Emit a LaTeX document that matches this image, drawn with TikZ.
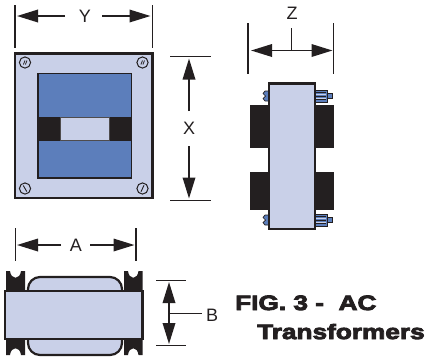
\documentclass[tikz,border=0pt]{standalone}
\usepackage{fontspec}
\setmainfont{Liberation Sans}
\newfontfamily\figfont[FakeBold=4.2,FakeStretch=1.26]{Liberation Sans Bold}
\usetikzlibrary{arrows.meta}
\definecolor{plate}{HTML}{C9D0E8}
\definecolor{core}{HTML}{5C7EBB}
\definecolor{ink}{HTML}{231F20}
\tikzset{
  extline/.style={draw=ink,line width=1.8pt},
  dimline/.style={draw=ink,line width=1.8pt,-{Triangle[length=21pt,width=12.5pt]}},
  dimlbl/.style={font=\fontsize{18}{18}\selectfont,text=ink,inner sep=0pt},
  platebox/.style={fill=plate,draw=ink,line width=2.2pt},
  screwc/.style={fill=plate,draw=ink,line width=1pt},
  blackbox/.style={fill=ink,draw=none},
  bolt/.style={fill=core,draw=ink,line width=0.7pt},
  figlbl/.style={font=\figfont\fontsize{20.8}{20.8}\selectfont,text=ink,inner sep=0pt,anchor=base west},
}
\begin{document}
\begin{tikzpicture}[x=1pt,y=-1pt]
\useasboundingbox (0,0) rectangle (427,360);
% Front view
\draw[platebox] (15,53.5) rectangle (152.5,198);
\fill[core] (38,73.5) rectangle (131.5,178);
\fill[blackbox] (38,117) rectangle (60,140.5);
\fill[blackbox] (109,117) rectangle (131.5,140.5);
\draw[fill=plate,draw=ink!80,line width=0.9pt] (60,117) rectangle (109,140.5);
\draw[draw=ink,line width=1.6pt] (38,73.5) rectangle (131.5,178);
\foreach \cx/\cy in {25/62.5,142.5/62.5}{
  \draw[screwc] (\cx,\cy) circle (5.6);
  \draw[ink,line width=0.8pt] (\cx-1.6,\cy+2) -- (\cx,\cy-2) (\cx+0.4,\cy+2) -- (\cx+2,\cy-2);
}
\foreach \cx/\cy/\ang in {25/188.5/60,142.5/188.5/115}{
  \draw[screwc] (\cx,\cy) circle (5.6);
  \draw[ink,line width=0.9pt] (\cx,\cy) ++(\ang:-3.5) -- ++(\ang:7);
}
% Y
\coordinate (yl) at (65,16); \coordinate (yla) at (17,16);
\coordinate (yr) at (102,16); \coordinate (yra) at (150.5,16);
\draw[dimline] (yl) -- (yla);
\draw[dimline] (yr) -- (yra);
\draw[extline] (15,5) -- (15,48);
\draw[extline] (152.5,5) -- (152.5,48);
\node[dimlbl] (ly) at (85,16) {Y};
% X
\coordinate (xt) at (189,111); \coordinate (xta) at (189,58.5);
\coordinate (xb) at (189,146); \coordinate (xba) at (189,198.5);
\draw[dimline] (xt) -- (xta);
\draw[dimline] (xb) -- (xba);
\draw[extline] (170,56.5) -- (211,56.5);
\draw[extline] (170,200.5) -- (211,200.5);
\node[dimlbl] (lx) at (189,128) {X};
% Side view
\fill[blackbox] (250,105) rectangle (269,148);
\fill[blackbox] (250,172) rectangle (269,210);
\fill[blackbox] (315,105) rectangle (334,148);
\fill[blackbox] (315,172) rectangle (334,210);
\foreach \by in {96,220}{
  \draw[bolt] (315,\by-6) rectangle (327,\by+6);
  \draw[bolt] (327,\by-2.8) rectangle (332,\by+2.8);
  \draw[plate,line width=0.8pt] (316,\by-2) -- (326,\by-2) (316,\by+2) -- (326,\by+2);
  \draw[ink,line width=0.6pt] (316,\by-3.5) -- (326,\by-3.5) (316,\by) -- (326,\by) (316,\by+3.5) -- (326,\by+3.5);
  \draw[bolt] (269,\by-5) -- (265,\by-5) -- (263,\by-2.5) -- (265.5,\by) -- (263,\by+2.5) -- (265,\by+5) -- (269,\by+5) -- cycle;
}
\draw[platebox] (269,83.5) rectangle (315,229);
% Z
\coordinate (zc) at (291.5,50.5); \coordinate (zl) at (251,50.5); \coordinate (zr) at (332.5,50.5); \coordinate (zt) at (291.5,28);
\draw[dimline] (zc) -- (zl);
\draw[dimline] (zc) -- (zr);
\draw[extline] (zt) -- (zc);
\draw[extline] (248,23) -- (248,74);
\draw[extline] (333.5,23) -- (333.5,74);
\node[dimlbl] (lz) at (292,13) {Z};
% Bottom view
\draw[platebox] (28,277) [rounded corners=12pt] rectangle (122,355);
\foreach \xa/\xb in {6/25,124/142.5}{
  \fill[blackbox] (\xa,291) -- (\xa,271) -- ({\xa+4},271) .. controls ({\xa+5},280) and ({\xb-5},280) .. ({\xb-4},271) -- (\xb,271) -- (\xb,291) -- cycle;
  \fill[blackbox] (\xa,339) -- (\xa,355) -- ({\xa+4},355) .. controls ({\xa+5},346) and ({\xb-5},346) .. ({\xb-4},355) -- (\xb,355) -- (\xb,339) -- cycle;
}
\draw[platebox] (5,291) rectangle (142.5,339);
% A
\coordinate (al) at (61,245); \coordinate (ala) at (17,245);
\coordinate (ar) at (90,245); \coordinate (ara) at (134.5,245);
\draw[dimline] (al) -- (ala);
\draw[dimline] (ar) -- (ara);
\draw[extline] (15.5,228) -- (15.5,261);
\draw[extline] (136,228) -- (136,261);
\node[dimlbl] (la) at (76,245) {A};
% B
\coordinate (bc) at (169,313.5); \coordinate (bt) at (169,282); \coordinate (bb) at (169,344); \coordinate (bs) at (202,313.5);
\draw[dimline] (bc) -- (bt);
\draw[dimline] (bc) -- (bb);
\draw[extline] (bc) -- (bs);
\draw[extline] (156,280.5) -- (186,280.5);
\draw[extline] (156,345.5) -- (186,345.5);
\node[dimlbl] (lb) at (212,315) {B};
% Caption
\node[figlbl] (cap1) at (235,310) {FIG. 3 -\ \ AC};
\node[figlbl] (cap2) at (257,339) {Transformers};
\end{tikzpicture}
\end{document}
